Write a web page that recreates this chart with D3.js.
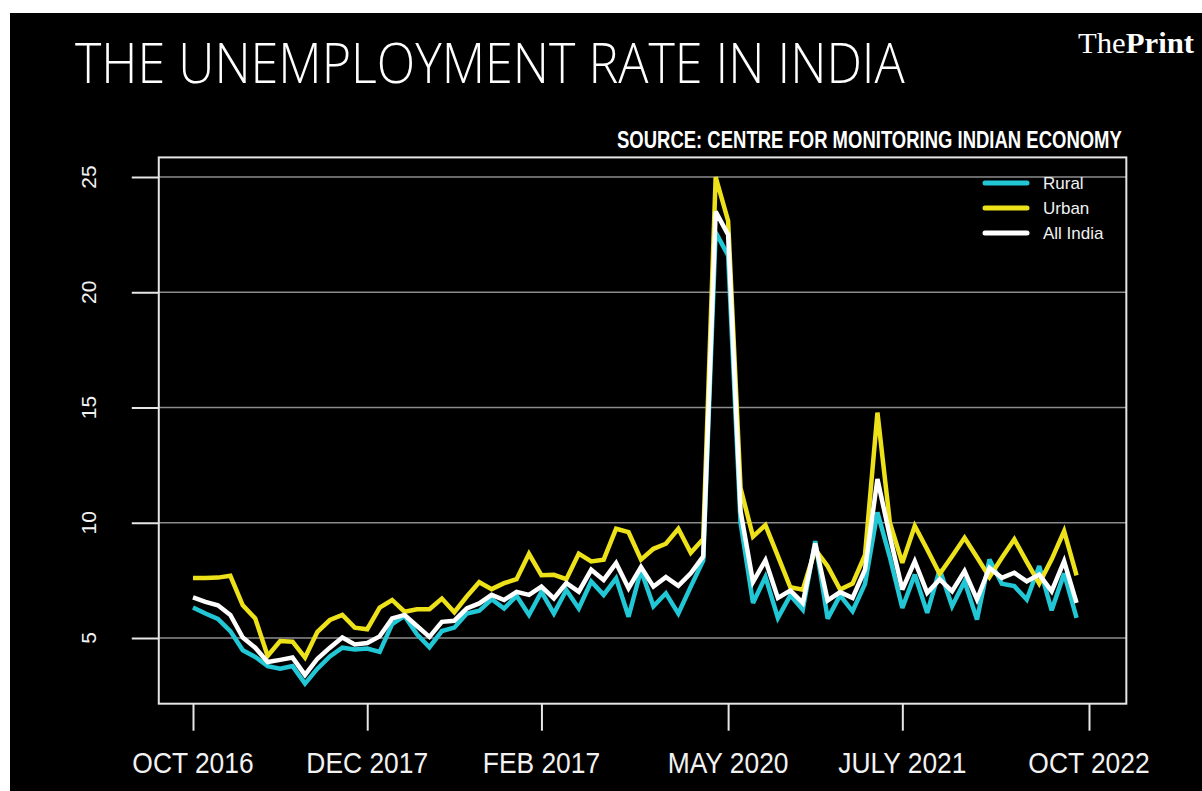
<!DOCTYPE html>
<html>
<head>
<meta charset="utf-8">
<script src="https://cdn.jsdelivr.net/npm/d3@7"></script>
<style>
  html, body { margin: 0; padding: 0; background: #ffffff; }
  svg { display: block; }
</style>
</head>
<body>
<svg id="chart" width="1202" height="791"></svg>
<script>
// ---------------- DATA ----------------
// Monthly series, Oct 2016 (index 0) through Sep 2022 (index 71)
const rural = [6.32, 6.06, 5.83, 5.30, 4.47, 4.18, 3.78, 3.67, 3.78, 3.02,
               3.67, 4.20, 4.58, 4.50, 4.54, 4.40, 5.60, 5.96, 5.16, 4.60,
               5.30, 5.45, 6.06, 6.18, 6.68, 6.28, 6.83, 6.00, 7.00, 6.06,
               7.08, 6.28, 7.45, 6.87, 7.59, 5.92, 7.94, 6.38, 6.94, 6.06,
               7.23, 8.36, 22.6, 21.6, 10.0, 6.52, 7.65, 5.87, 6.85, 6.23,
               9.20, 5.84, 6.85, 6.16, 7.35, 10.45, 8.50, 6.30, 7.75, 6.09,
               7.97, 6.38, 7.46, 5.80, 8.41, 7.35, 7.25, 6.67, 8.12, 6.20,
               7.80, 5.87];
const urban = [7.60, 7.60, 7.62, 7.70, 6.42, 5.85, 4.22, 4.87, 4.84, 4.15,
               5.27, 5.78, 6.00, 5.45, 5.38, 6.32, 6.65, 6.14, 6.25, 6.25,
               6.71, 6.12, 6.80, 7.42, 7.12, 7.38, 7.55, 8.65, 7.72, 7.74,
               7.55, 8.66, 8.32, 8.40, 9.74, 9.59, 8.40, 8.87, 9.09, 9.74,
               8.70, 9.30, 25.0, 23.1, 11.5, 9.40, 9.90, 8.55, 7.20, 7.10,
               8.84, 8.12, 7.10, 7.36, 8.60, 14.78, 10.0, 8.26, 9.86, 8.84,
               7.78, 8.55, 9.35, 8.50, 7.64, 8.48, 9.28, 8.30, 7.36, 8.41,
               9.64, 7.72];
const allIndia = [6.76, 6.57, 6.42, 6.00, 5.02, 4.58, 3.96, 4.05, 4.15, 3.40,
                  4.10, 4.58, 5.02, 4.72, 4.78, 5.07, 5.85, 6.00, 5.52, 5.05,
                  5.70, 5.75, 6.28, 6.50, 6.87, 6.65, 7.00, 6.87, 7.23, 6.72,
                  7.38, 7.01, 7.96, 7.52, 8.25, 7.16, 8.08, 7.23, 7.64, 7.26,
                  7.81, 8.54, 23.5, 22.5, 10.5, 7.43, 8.37, 6.74, 7.06, 6.52,
                  9.10, 6.63, 6.99, 6.74, 7.97, 11.9, 9.40, 7.10, 8.33, 6.96,
                  7.54, 7.03, 7.90, 6.67, 8.04, 7.61, 7.83, 7.46, 7.75, 7.03,
                  8.33, 6.52];
const seriesNames = ["Rural", "Urban", "All India"];
const seriesColors = ["#22c7d6", "#ede11a", "#ffffff"];
const xTickLabels = ["OCT 2016", "DEC 2017", "FEB 2017", "MAY 2020", "JULY 2021", "OCT 2022"];
const xTickMonths = [0, 14, 28, 43, 57, 72];
const yTicks = [5, 10, 15, 20, 25];

// ---------------- LAYOUT ----------------
const svg = d3.select("#chart");
const W = 1202, H = 791;
const x = d3.scaleLinear().domain([0, 72]).range([193, 1089]);
const y = d3.scaleLinear().domain([5, 25]).range([638, 177]);
const box = { left: x(-2.75), right: x(75), top: y(25.85), bottom: y(2.15) };

// helper: place text with horizontal squeeze to a target width (via transform)
function fitText(sel, x0, y0, targetWidth) {
  const node = sel.node();
  const w = node.getComputedTextLength();
  const s = targetWidth / w;
  sel.attr("x", 0).attr("y", 0)
     .attr("transform", `translate(${x0},${y0}) scale(${s},1)`);
  return sel;
}

// background
svg.append("rect").attr("x", 0).attr("y", 0).attr("width", W).attr("height", H).attr("fill", "#ffffff");
svg.append("rect").attr("x", 10).attr("y", 13).attr("width", W - 10).attr("height", H - 13).attr("fill", "#000000");

// title
fitText(svg.append("text")
  .attr("font-family", "'Open Sans', sans-serif")
  .attr("font-weight", 300)
  .attr("font-size", 55)
  .attr("fill", "#ffffff")
  .text("THE UNEMPLOYMENT RATE IN INDIA"), 75, 83, 830);

// logo
const logo = svg.append("text")
  .attr("font-family", "'Liberation Serif', serif")
  .attr("font-size", 29)
  .attr("fill", "#ffffff");
logo.append("tspan").text("The");
logo.append("tspan").attr("font-weight", "bold").text("Print");
fitText(logo, 1078, 53, 116);

// source
fitText(svg.append("text")
  .attr("font-family", "'Liberation Sans', sans-serif")
  .attr("font-weight", "bold")
  .attr("font-size", 23)
  .attr("fill", "#ffffff")
  .text("SOURCE: CENTRE FOR MONITORING INDIAN ECONOMY"), 617, 148, 505);

// gridlines
svg.append("g").selectAll("line").data(yTicks).join("line")
  .attr("x1", box.left).attr("x2", box.right)
  .attr("y1", d => y(d)).attr("y2", d => y(d))
  .attr("stroke", "#8c8c8c").attr("stroke-width", 1.5);

// y axis
const yAxis = svg.append("g")
  .attr("transform", `translate(${box.left},0)`)
  .call(d3.axisLeft(y).tickValues(yTicks).tickSize(27).tickFormat(""));
yAxis.select(".domain").remove();
yAxis.selectAll(".tick line").attr("stroke", "#e6e6e6").attr("stroke-width", 2);
svg.append("g").selectAll("text").data(yTicks).join("text")
  .attr("transform", d => `translate(96,${y(d)}) rotate(-90)`)
  .attr("text-anchor", "middle")
  .attr("font-family", "'Liberation Sans', Arial, sans-serif")
  .attr("font-size", 21)
  .attr("fill", "#f2f2f2")
  .text(d => d);

// x axis
const xAxis = svg.append("g")
  .attr("transform", `translate(0,${box.bottom})`)
  .call(d3.axisBottom(x).tickValues(xTickMonths).tickSize(27).tickFormat(""));
xAxis.select(".domain").remove();
xAxis.selectAll(".tick line").attr("stroke", "#e6e6e6").attr("stroke-width", 2);
svg.append("g").selectAll("text").data(xTickMonths).join("text")
  .attr("transform", d => `translate(${x(d)},773) scale(0.88,1)`)
  .attr("text-anchor", "middle")
  .attr("font-family", "'Liberation Sans', Arial, sans-serif")
  .attr("font-size", 30)
  .attr("fill", "#f2f2f2")
  .text((d, i) => xTickLabels[i]);

// plot box
svg.append("rect")
  .attr("x", box.left).attr("y", box.top)
  .attr("width", box.right - box.left).attr("height", box.bottom - box.top)
  .attr("fill", "none").attr("stroke", "#e6e6e6").attr("stroke-width", 2);

// lines
const line = d3.line().x((d, i) => x(i)).y(d => y(d)).curve(d3.curveLinear);
const allSeries = [rural, urban, allIndia];
svg.append("g").selectAll("path").data(allSeries).join("path")
  .attr("d", d => line(d))
  .attr("fill", "none")
  .attr("stroke", (d, i) => seriesColors[i])
  .attr("stroke-width", 4.5)
  .attr("stroke-linejoin", "miter")
  .attr("stroke-miterlimit", 3);

// legend
const legend = svg.append("g");
const legY = d3.scaleLinear().domain([0, 1]).range([183, 208]);
seriesNames.forEach((name, i) => {
  legend.append("line")
    .attr("x1", 985).attr("x2", 1027)
    .attr("y1", legY(i)).attr("y2", legY(i))
    .attr("stroke", seriesColors[i]).attr("stroke-width", 5)
    .attr("stroke-linecap", "round");
  legend.append("text")
    .attr("x", 1043).attr("y", legY(i) + 6)
    .attr("font-family", "'Liberation Sans', Arial, sans-serif")
    .attr("font-size", 17)
    .attr("fill", "#f2f2f2")
    .text(name);
});
</script>
</body>
</html>
